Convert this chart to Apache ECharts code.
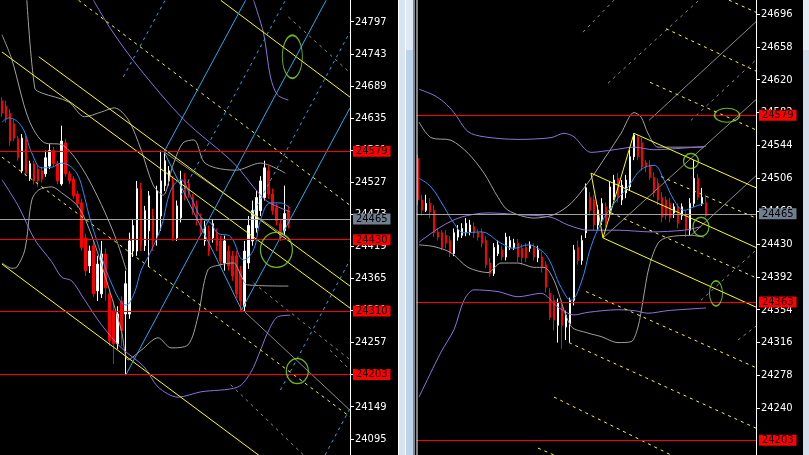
<!DOCTYPE html>
<html><head><meta charset="utf-8">
<style>html,body{margin:0;padding:0;background:#000;overflow:hidden}#c{width:809px;height:455px}</style>
<script src="https://cdn.jsdelivr.net/npm/echarts@6.0.0/dist/echarts.min.js"></script>
</head><body><div id="c"></div>
<script>
// ---------------- DATA ----------------
// Left panel candles [open, close, low, high]
const leftCandles = [
[24664,24643,24637,24670],[24655,24633,24627,24664],[24643,24596,24588,24650],[24625,24601,24596,24633],
[24600,24568,24563,24605],[24546,24601,24542,24608],[24600,24542,24537,24605],[24534,24558,24529,24563],
[24558,24529,24523,24563],[24549,24529,24519,24554],[24546,24532,24526,24553],[24541,24568,24536,24580],
[24554,24580,24549,24591],[24580,24558,24553,24586],[24558,24529,24524,24563],[24524,24596,24521,24622],
[24593,24541,24536,24600],[24541,24529,24523,24546],[24532,24504,24499,24537],[24507,24491,24484,24512],
[24492,24417,24411,24499],[24433,24378,24369,24440],[24386,24411,24374,24420],[24420,24339,24334,24428],
[24344,24389,24327,24403],[24339,24406,24332,24428],[24406,24349,24327,24415],[24339,24260,24251,24347],
[24310,24255,24221,24327],[24255,24305,24246,24318],[24327,24277,24251,24335],[24305,24356,24202,24378],
[24305,24428,24297,24442],[24411,24454,24401,24465],[24411,24516,24403,24529],[24516,24420,24411,24526],
[24420,24479,24411,24487],[24445,24504,24386,24512],[24470,24428,24411,24482],[24437,24512,24420,24521],
[24470,24529,24445,24580],[24521,24563,24512,24580],[24529,24546,24521,24554],[24529,24433,24428,24537],
[24433,24487,24428,24496],[24467,24529,24459,24546],[24532,24501,24496,24542],[24524,24507,24501,24532],
[24501,24479,24472,24507],[24487,24462,24454,24496],[24467,24445,24437,24474],[24428,24452,24420,24462],
[24445,24411,24403,24454],[24433,24457,24425,24465],[24442,24420,24411,24449],[24428,24394,24386,24437],
[24391,24428,24378,24437],[24411,24386,24378,24420],[24403,24369,24361,24411],[24403,24339,24332,24411],
[24378,24327,24310,24386],[24318,24411,24310,24428],[24391,24454,24381,24470],[24428,24479,24420,24496],
[24450,24501,24442,24512],[24479,24529,24470,24537],[24501,24551,24496,24563],[24546,24507,24499,24554],
[24507,24479,24472,24516],[24484,24462,24454,24491],[24457,24433,24428,24465],[24445,24474,24437,24521],
[24479,24457,24449,24487]
];
// Right panel candles [open, close, low, high]
const rightCandles = [
[24529,24481,24475,24533],[24481,24469,24463,24487],[24469,24477,24467,24487],[24477,24467,24460,24483],
[24469,24443,24438,24475],[24444,24438,24434,24448],[24443,24426,24423,24446],[24440,24431,24425,24446],
[24434,24419,24415,24439],[24419,24443,24416,24448],[24438,24446,24434,24452],[24440,24448,24437,24454],
[24443,24454,24439,24460],[24444,24452,24440,24458],[24450,24443,24437,24455],[24443,24438,24434,24447],
[24443,24431,24426,24448],[24434,24406,24402,24439],[24408,24396,24392,24414],[24396,24426,24393,24431],
[24419,24429,24416,24434],[24423,24415,24411,24428],[24415,24438,24411,24443],[24426,24434,24423,24439],
[24426,24431,24423,24436],[24431,24415,24409,24436],[24425,24414,24406,24430],[24426,24414,24409,24431],
[24425,24429,24421,24433],[24426,24415,24411,24431],[24414,24423,24409,24428],[24415,24403,24397,24421],
[24406,24380,24374,24410],[24373,24345,24342,24379],[24365,24342,24330,24371],[24336,24362,24316,24367],
[24359,24336,24309,24365],[24334,24348,24319,24353],[24338,24365,24316,24368],[24365,24423,24359,24429],
[24426,24411,24406,24434],[24411,24434,24406,24440],[24443,24495,24437,24500],[24484,24469,24463,24490],
[24481,24452,24446,24487],[24452,24469,24446,24475],[24458,24477,24452,24483],[24473,24454,24450,24478],
[24469,24496,24463,24502],[24484,24504,24481,24510],[24506,24484,24478,24512],[24481,24498,24475,24504],
[24489,24504,24483,24510],[24496,24531,24492,24539],[24531,24556,24527,24558],[24554,24531,24527,24557],
[24547,24519,24515,24553],[24524,24519,24513,24527],[24521,24507,24504,24527],[24507,24489,24484,24513],
[24500,24481,24475,24506],[24484,24461,24455,24490],[24481,24463,24458,24485],[24477,24460,24455,24483],
[24466,24473,24460,24477],[24473,24454,24448,24477],[24463,24473,24458,24477],[24463,24446,24438,24469],
[24446,24477,24440,24483],[24477,24506,24473,24527],[24506,24484,24481,24511],[24477,24484,24474,24495],
[24478,24463,24461,24487]
];
// Axis tick labels
const leftTicks = [24095,24149,24203,24257,24311,24365,24419,24473,24527,24581,24635,24689,24743,24797];
const rightTicks = [24240,24278,24316,24354,24392,24430,24468,24506,24544,24582,24620,24658,24696];
// Horizontal price levels
const leftRedLevels = [24579,24430,24310,24203];
const leftGrayLevels = [24465];
const rightRedLevels = [24579,24363,24203];
const rightGrayLevels = [24465];
// ---- Left panel drawn objects: [barIndex, price] points ----
const leftYellowSolid = [
 [[0,24746],[87.5,24315]],
 [[9.25,24738],[87.5,24352]],
 [[0,24389],[87.5,23953]],
 [[55,24833],[87.5,24670]]
];
const leftYellowDashed = [
 [[19.25,24833],[87.5,24488]],
 [[0,24569],[87.5,24132]]
];
const leftCyanSolid = [
 [[31.25,24204],[81.5,24833]],
 [[40.75,24578],[61.25,24833]],
 [[60.25,24312],[87.5,24652]],
 [[40.75,24578],[60.25,24312]]
];
const leftCyanDashed = [
 [[30.5,24704],[41,24833]],
 [[45,24505],[71.25,24833]],
 [[62.5,24467],[87.5,24780]],
 [[70,24177],[87.5,24396]],
 [[81.25,24068],[87.5,24146]]
];
const leftGraySolid = [
 [[60.5,24312],[87.5,24143]],
 [[40.75,24578],[72.5,24430]]
];
const leftGrayDashed = [
 [[72,24805],[87.5,24711]],
 [[63.25,24357],[87.5,24228]],
 [[57.5,24186],[75.75,24068]],
 [[82.5,24244],[87.5,24211]]
];
const leftPurple = [
 [[23,24833],[27.5,24783],[34.25,24721],[45.75,24632],[58.25,24559],[66.25,24497],[72.5,24477]],
 [[63.25,24833],[65.75,24778],[67.5,24704],[69.25,24674],[72,24665]],
 [[0,24531],[4.25,24485],[8.25,24430],[12.5,24393],[15,24367],[17.5,24361],[20.75,24329],[25,24287],[30,24248],
  [35.75,24216],[39.25,24182],[44.25,24165],[50,24174],[59.25,24182],[62.5,24206],[65,24244],[66.75,24273],[69.25,24300],[72.5,24303]]
];
const leftGrayBands = [
 [[0,24775],[2.5,24733],[6.75,24632],[10.75,24593],[15,24590],[20,24552],[25,24489],[28.75,24430],[31.25,24379]],
 [[6.25,24833],[8.25,24685],[10,24677],[16.75,24662],[20.75,24637],[25,24645],[28.25,24652],[31.75,24632],[35,24581],
  [38,24522],[40.5,24505],[43,24556],[45.5,24593],[48.25,24598],[50.75,24561],[53.75,24551],[58.75,24547],[65,24559],[71.25,24542]],
 [[0,24391],[2.5,24382],[3.75,24384],[5.75,24413],[7.5,24497],[9.25,24514],[12.5,24519],[15,24509],[19.25,24485],[22.5,24438],
  [26.25,24362],[30,24278],[31.75,24228],[35,24244],[39.25,24265],[42.5,24248],[46.75,24253],[49.25,24300],[51.75,24379],
  [55,24388],[58.25,24391],[60,24371],[61.75,24354],[72,24352]]
];
const leftMA = [[0,24628],[1.75,24635],[5,24620],[7.5,24576],[10,24551],[12.5,24552],[15,24559],[17.5,24552],[19.25,24536],
 [20.5,24509],[21.75,24475],[23.25,24441],[27.5,24357],[31.25,24320],[33.25,24340],[35,24379],[36.75,24401],[40,24451],
 [42.5,24514],[45,24531],[47.5,24502],[50,24468],[52.5,24458],[54.25,24441],[57.5,24435],[60.75,24396],[63.25,24413],
 [65,24463],[67.5,24492],[70,24492],[72.5,24483]];
const leftEllipses = [[73,24738],[69,24413],[74.25,24209]];
// ---- Right panel drawn objects ----
const rightYellowSolid = [
 [[54,24558],[84.5,24495]],
 [[43.25,24512],[84.5,24426]],
 [[46.25,24437],[84.5,24357]],
 [[54,24558],[46.25,24437]],
 [[43.25,24512],[46.25,24437]]
];
const rightYellowDashed = [
 [[77.75,24712],[84.5,24698]],
 [[62,24679],[84.5,24630]],
 [[58,24617],[84.5,24562]],
 [[60.75,24508],[84.5,24460]],
 [[48.25,24466],[84.5,24391]],
 [[42,24375],[84.5,24287]],
 [[37.75,24316],[84.5,24217]],
 [[34,24253],[63.25,24186]],
 [[30,24194],[34,24186]]
];
const rightGraySolid = [
 [[57.75,24573],[84.5,24687]],
 [[46.5,24438],[84.5,24597]],
 [[68.25,24440],[84.5,24509]]
];
const rightGrayDashed = [
 [[47.5,24616],[70.25,24712]],
 [[41.25,24675],[49,24712]],
 [[68.25,24573],[84.5,24643]],
 [[70.75,24365],[84.5,24423]],
 [[80,24319],[84.5,24335]]
];
const rightPurple = [
 [[0.25,24609],[4,24602],[6.5,24594],[9,24582],[12.5,24560],[16.5,24554],[25,24551],[33.25,24553],[36.5,24558],[39,24554],
  [43.25,24536],[49,24539],[54,24542],[59,24539],[66.5,24541],[72,24543]],
 [[0.25,24253],[5.75,24305],[9,24331],[11.5,24365],[14,24377],[20,24375],[25,24369],[30.75,24373],[35,24357],[39,24348],
  [42.5,24351],[50,24354],[54,24353],[57.5,24350],[62.5,24353],[72,24356]],
 [[0.25,24432],[5.75,24450],[10.75,24461],[17.5,24466],[25,24464],[33.25,24461],[37.5,24452],[42.5,24446],[50,24446],
  [58.25,24444],[66.5,24446],[70.75,24450]]
];
const rightGrayBands = [
 [[0.25,24571],[3.25,24553],[8.25,24550],[12.5,24535],[16.5,24512],[20,24484],[22.5,24469],[29,24460],[34,24464],[38.25,24477],
  [42.5,24501],[47.5,24535],[50.75,24558],[54,24582],[55.75,24577],[57.5,24558],[60,24542],[62.5,24542],[71.5,24542]],
 [[0.25,24429],[4,24427],[8.25,24420],[12.5,24403],[17.5,24397],[20.75,24408],[25,24408],[29,24403],[31.5,24403],[34,24388],
  [38.25,24335],[42.5,24327],[45.75,24323],[50,24316],[53.25,24317],[55,24334],[56.25,24365],[57.75,24403],[60,24431],
  [62.5,24438],[68.25,24440],[71.5,24438]]
];
const rightMA = [[0.25,24506],[3.25,24496],[6.5,24473],[9,24454],[11.5,24443],[15.75,24444],[20.75,24431],[24,24425],
 [27.5,24429],[30,24425],[32.5,24414],[35.75,24380],[38.25,24365],[40.75,24385],[43.25,24427],[45.75,24454],[49,24477],
 [52.5,24496],[55.75,24516],[59,24521],[61.5,24504],[64,24481],[66.5,24469],[69,24473],[71.5,24477]];
const rightEllipses = [[77.25,24579],[68.25,24526],[70.75,24450],[74.5,24373]];

// ---------------- STYLE / BUILD ----------------
const FONT = "'Liberation Sans Narrow','DejaVu Sans Condensed','Liberation Sans',sans-serif";
const C = {yellow:'#ffff00', cyan:'#1eaaf0', gray:'#a0a0a0', dgray:'#8a8a8a', purple:'#9070e0', blue:'#2090ff', green:'#88e020', red:'#ff0000'};
const leftEllipseSizes = [[20,43],[32,35],[22,25]];
const rightEllipseSizes = [[25,14],[15,15],[16,19],[13,25]];
const series = [];
function lines(list, color, dash, xi, yi, smooth, z) {
  list.forEach(pts => series.push({type:'line', xAxisIndex:xi, yAxisIndex:yi, data:pts, showSymbol:false, symbol:'none',
    smooth: smooth || false, silent:true, z: z || 3,
    lineStyle:{color, width:1, type: dash ? [3,4] : 'solid'}}));
}
function levels(red, gray) {
  const lab = bg => ({show:true, position:'end', distance:3, formatter: p => String(p.value), color:'#000',
    backgroundColor:bg, padding:[1,3,0,3], fontSize:11, lineHeight:10, fontFamily:FONT});
  return {symbol:['none','none'], silent:true, animation:false,
    data: red.map(v => ({yAxis:v, lineStyle:{color:C.red, width:1, type:'solid'}, label:lab(C.red)}))
      .concat(gray.map(v => ({yAxis:v, lineStyle:{color:'#a0a0a0', width:1, type:'solid'}, label:lab('#6f7f90')})))};
}
const candleStyle = {color:'#ffffff', color0:C.red, borderColor:'#ffffff', borderColor0:C.red, borderWidth:1};
series.push({type:'candlestick', xAxisIndex:0, yAxisIndex:0, data:leftCandles, barWidth:2, itemStyle:candleStyle, z:2,
  markLine: levels(leftRedLevels, leftGrayLevels)});
series.push({type:'candlestick', xAxisIndex:2, yAxisIndex:1, data:rightCandles, barWidth:2, itemStyle:candleStyle, z:2,
  markLine: levels(rightRedLevels, rightGrayLevels)});
// left
lines(leftGrayBands, C.gray, false, 1, 0, 0.3);
lines(leftPurple, C.purple, false, 1, 0, 0.3);
lines(leftGraySolid, C.dgray, false, 1, 0);
lines(leftGrayDashed, C.dgray, true, 1, 0);
lines(leftYellowSolid, C.yellow, false, 1, 0);
lines(leftYellowDashed, C.yellow, true, 1, 0);
lines(leftCyanSolid, C.cyan, false, 1, 0);
lines(leftCyanDashed, C.cyan, true, 1, 0);
lines([leftMA], C.blue, false, 1, 0, 0.4, 4);
// right
lines(rightGrayBands, C.gray, false, 3, 1, 0.3);
lines(rightPurple, C.purple, false, 3, 1, 0.3);
lines(rightGraySolid, C.dgray, false, 3, 1);
lines(rightGrayDashed, C.dgray, true, 3, 1);
lines(rightYellowSolid, C.yellow, false, 3, 1);
lines(rightYellowDashed, C.yellow, true, 3, 1);
lines([rightMA], C.blue, false, 3, 1, 0.4, 4);
function ellipses(pts, sizes, xi, yi) {
  pts.forEach((p, i) => series.push({type:'scatter', xAxisIndex:xi, yAxisIndex:yi, data:[p], symbol:'circle',
    symbolSize: sizes[i], silent:true, z:5,
    itemStyle:{color:'rgba(0,0,0,0)', borderColor:C.green, borderWidth:1.3}}));
}
ellipses(leftEllipses, leftEllipseSizes, 1, 0);
ellipses(rightEllipses, rightEllipseSizes, 3, 1);

function yAxis(grid, min, max, ticks) {
  return {type:'value', gridIndex:grid, position:'right', min, max, splitLine:{show:false},
    axisLine:{show:true, onZero:false, lineStyle:{color:'#ffffff', width:1}},
    axisTick:{show:true, inside:false, length:4, customValues:ticks, lineStyle:{color:'#ffffff'}},
    axisLabel:{show:true, customValues:ticks, color:'#ffffff', fontSize:11, fontFamily:FONT, margin:5,
      formatter: v => String(v)}};
}
const cat = n => Array.from({length:n}, (_, i) => String(i));
const frame = [
  {type:'rect', shape:{x:398,y:0,width:1,height:455}, style:{fill:'#ffffff'}},
  {type:'rect', shape:{x:399,y:0,width:6,height:455}, style:{fill:'#d5e3f2'}},
  {type:'rect', shape:{x:405,y:0,width:1,height:455}, style:{fill:'#ffffff'}},
  {type:'rect', shape:{x:406,y:0,width:7,height:455}, style:{fill:'#bdd3ea'}},
  {type:'rect', shape:{x:406,y:0,width:7,height:50}, style:{fill:'#dfe9f5'}},
  {type:'rect', shape:{x:413,y:0,width:2,height:455}, style:{fill:'#7d8894'}},
  {type:'rect', shape:{x:415,y:0,width:1.5,height:455}, style:{fill:'#000000'}},
  {type:'rect', shape:{x:416.5,y:0,width:1,height:455}, style:{fill:'#ffffff'}},
  {type:'rect', shape:{x:803,y:0,width:6,height:455}, style:{fill:'#d3e0ee'}},
  {type:'rect', shape:{x:803,y:0,width:6,height:50}, style:{fill:'#e6eef7'}}
].map(g => Object.assign(g, {z:100, silent:true}));

const option = {
  backgroundColor:'#000000', animation:false,
  grid:[{left:-2, top:0, width:352, height:455}, {left:416, top:0, width:340, height:455}],
  xAxis:[
    {type:'category', gridIndex:0, data:cat(88), show:false, boundaryGap:true},
    {type:'value', gridIndex:0, min:-0.5, max:87.5, show:false},
    {type:'category', gridIndex:1, data:cat(85), show:false, boundaryGap:true},
    {type:'value', gridIndex:1, min:-0.5, max:84.5, show:false}
  ],
  yAxis:[yAxis(0, 24067.7, 24833.5, leftTicks), yAxis(1, 24186, 24712.2, rightTicks)],
  graphic: frame,
  series
};
const chart = echarts.init(document.getElementById('c'));
chart.setOption(option);
</script></body></html>
